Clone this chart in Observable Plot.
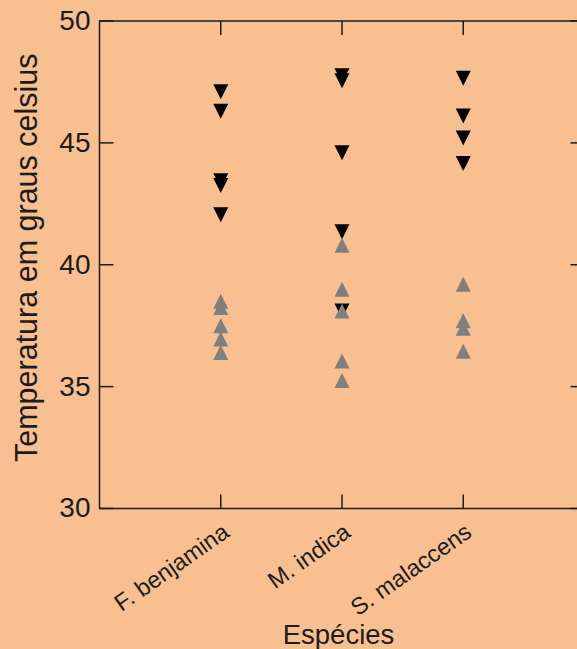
<!DOCTYPE html>
<html><head><meta charset="utf-8">
<script src="https://cdn.jsdelivr.net/npm/d3@7"></script>
<script src="https://cdn.jsdelivr.net/npm/@observablehq/plot@0.6"></script>
<style>html,body{margin:0;padding:0;background:#F8BF90;overflow:hidden;}</style>
</head><body><div id="chart"></div>
<script>
const species = ["F. benjamina", "M. indica", "S. malaccens"];
const tempMax_Fbenjamina = [47.1, 46.3, 43.45, 43.25, 42.05];
const tempMin_Fbenjamina = [38.5, 38.25, 37.5, 36.95, 36.4];
const tempMax_Mindica = [47.75, 47.55, 44.6, 41.35, 38.1];
const tempMin_Mindica = [40.8, 39.0, 38.1, 36.05, 35.25];
const tempMax_Smalaccens = [47.65, 46.1, 45.2, 44.15];
const tempMin_Smalaccens = [39.2, 37.7, 37.4, 36.45];
const yTicks = [30, 35, 40, 45, 50];
const xLabel = "Espécies";
const yLabel = "Temperatura em graus celsius";

const maxRows = [tempMax_Fbenjamina, tempMax_Mindica, tempMax_Smalaccens]
  .flatMap((arr, i) => arr.map(v => ({pos: i + 1, species: species[i], value: v})));
const minRows = [tempMin_Fbenjamina, tempMin_Mindica, tempMin_Smalaccens]
  .flatMap((arr, i) => arr.map(v => ({pos: i + 1, species: species[i], value: v})));
const catRows = species.map((s, i) => ({pos: i + 1, species: s}));

const triDown = {draw(ctx, size) { const r = Math.sqrt(size / Math.PI);
  ctx.moveTo(-r, -r); ctx.lineTo(r, -r); ctx.lineTo(0, r); ctx.closePath(); }};
const triUp = {draw(ctx, size) { const r = Math.sqrt(size / Math.PI);
  ctx.moveTo(0, -r); ctx.lineTo(r, r); ctx.lineTo(-r, r); ctx.closePath(); }};
const TL = 14;
const tickRightward = {draw(ctx) { ctx.moveTo(0, 0); ctx.lineTo(TL, 0); }};
const tickLeftward = {draw(ctx) { ctx.moveTo(0, 0); ctx.lineTo(-TL, 0); }};
const tickDownward = {draw(ctx) { ctx.moveTo(0, 0); ctx.lineTo(0, TL); }};
const tickUpward = {draw(ctx) { ctx.moveTo(0, 0); ctx.lineTo(0, -TL); }};

const ink = "#1c1c1c";
const chart = Plot.plot({
  width: 577, height: 649,
  marginLeft: 99, marginRight: 0, marginTop: 20.5, marginBottom: 141,
  style: {background: "#F8BF90", fontFamily: "'Liberation Sans', Arial, sans-serif", color: ink, overflow: "hidden"},
  x: {type: "linear", domain: [0, 4], range: [99, 584], axis: null},
  y: {domain: [30, 50], axis: null},
  marks: [
    Plot.ruleX([0, 4], {stroke: ink, strokeWidth: 1.5}),
    Plot.ruleY([30, 50], {stroke: ink, strokeWidth: 1.5}),
    Plot.dot(yTicks, {x: 0, y: d => d, symbol: tickRightward, stroke: ink, fill: "none", strokeWidth: 1.5}),
    Plot.dot(yTicks, {x: 4, y: d => d, symbol: tickLeftward, stroke: ink, fill: "none", strokeWidth: 1.5}),
    Plot.dot(catRows, {x: "pos", y: 50, symbol: tickDownward, stroke: ink, fill: "none", strokeWidth: 1.5}),
    Plot.dot(catRows, {x: "pos", y: 30, symbol: tickUpward, stroke: ink, fill: "none", strokeWidth: 1.5}),
    Plot.axisY({ticks: yTicks, tickSize: 0, tickPadding: 9, fontSize: 28, label: null, tickFormat: d => String(d)}),
    Plot.text(catRows, {x: "pos", frameAnchor: "bottom", text: "species", rotate: -35, textAnchor: "end", dx: 10, dy: 27, fontSize: 23.5, fill: ink}),
    Plot.text([yLabel], {frameAnchor: "left", text: d => d, rotate: -90, textAnchor: "middle", dx: -72, dy: -7, fontSize: 30.5, fill: ink}),
    Plot.text([xLabel], {frameAnchor: "bottom", text: d => d, lineAnchor: "bottom", dy: 135, fontSize: 27.5, fill: ink}),
    Plot.dot(maxRows, {x: "pos", y: "value", symbol: triDown, r: 7.5, fill: "#000000", stroke: "none"}),
    Plot.dot(minRows, {x: "pos", y: "value", symbol: triUp, r: 7.5, fill: "#7f7f7f", stroke: "none"})
  ]
});
document.getElementById("chart").appendChild(chart);
</script>
</body></html>
